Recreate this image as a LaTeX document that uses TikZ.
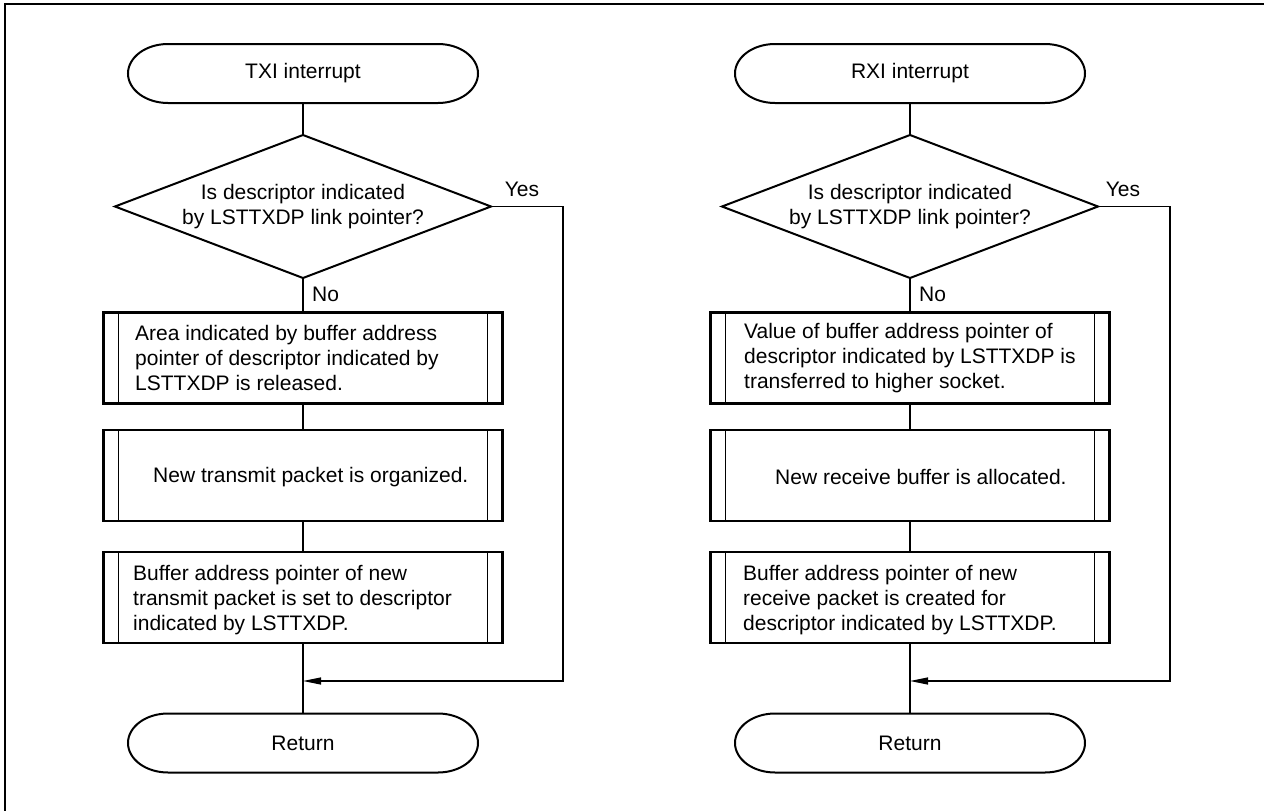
\documentclass[tikz,border=0pt]{standalone}
\usepackage{fontspec}
\setmainfont{Liberation Sans}
\usetikzlibrary{arrows.meta,shapes.geometric}
\newcommand\termshape[1]{%
  \draw[termline] ([xshift=40pt]#1.north west) -- ([xshift=-40pt]#1.north east)
    arc[start angle=90,end angle=-90,x radius=40pt,y radius=29.5pt]
    -- ([xshift=40pt]#1.south west)
    arc[start angle=270,end angle=90,x radius=40pt,y radius=29.5pt] -- cycle;}
\newcommand\procinner[1]{%
  \draw[innerline] ([xshift=15pt]#1.north west) -- ([xshift=15pt]#1.south west);
  \draw[innerline] ([xshift=-15pt]#1.north east) -- ([xshift=-15pt]#1.south east);}
\begin{document}
\begin{tikzpicture}[x=1pt,y=-1pt,
  txt/.style={font=\fontsize{21}{25}\selectfont, inner sep=0pt, text=black},
  termtext/.style={txt, minimum width=350pt, minimum height=59pt, outer sep=0pt},
  termline/.style={line width=2pt},
  dec/.style={txt, draw, line width=2pt, diamond, aspect=2.63, minimum width=376pt, minimum height=143pt, align=center, outer sep=0pt},
  procbox/.style={draw, line width=2.5pt, minimum width=399pt, minimum height=91pt, inner sep=0pt, outer sep=0pt},
  innerline/.style={line width=1pt},
  conn/.style={line width=1.2pt},
  arr/.style={conn, -{Triangle[length=18pt,width=7pt]}},
  boxtext/.style={txt, anchor=west, align=left},
  lbl/.style={txt},
]
\useasboundingbox (0,0) rectangle (1264,811);
\draw[line width=2pt] (5,811) -- (5,4) -- (1264,4);

% ---------- left column ----------
\node[termtext] (ls) at (303,73.5) {TXI interrupt};
\termshape{ls}
\node[dec] (ld) at (303,206.5) {Is descriptor indicated\\by LSTTXDP link pointer?};
\node[procbox] (lb1) at (303,358) {};
\procinner{lb1}
\node[boxtext] (lt1) at (135,358) {Area indicated by buffer address\\pointer of descriptor indicated by\\LSTTXDP is released.};
\node[procbox] (lb2) at (303,475.5) {};
\procinner{lb2}
\node[boxtext] (lt2) at (153,477) {New transmit packet is organized.};
\node[procbox] (lb3) at (303,597.5) {};
\procinner{lb3}
\node[boxtext] (lt3) at (133,600) {Buffer address pointer of new\\transmit packet is set to descriptor\\indicated by LSTTXDP.};
\node[termtext] (lr) at (303,743) {Return};
\termshape{lr}
\node[lbl] (lyes) at (522,189) {Yes};
\node[lbl, anchor=west] (lno) at (312,294) {No};
\coordinate (lc) at (563,681);

\draw[conn] (ls.south) -- (ld.north);
\draw[conn] (ld.south) -- (lb1.north);
\draw[conn] (lb1.south) -- (lb2.north);
\draw[conn] (lb2.south) -- (lb3.north);
\draw[conn] (lb3.south) -- (lr.north);
\draw[arr] (ld.east) -| (lc) -- (lc -| lb3.south);

% ---------- right column ----------
\node[termtext] (rs) at (910,73.5) {RXI interrupt};
\termshape{rs}
\node[dec] (rd) at (910,206.5) {Is descriptor indicated\\by LSTTXDP link pointer?};
\node[procbox] (rb1) at (910,358) {};
\procinner{rb1}
\node[boxtext] (rt1) at (744,358) {Value of buffer address pointer of\\descriptor indicated by LSTTXDP is\\transferred to higher socket.};
\node[procbox] (rb2) at (910,475.5) {};
\procinner{rb2}
\node[boxtext] (rt2) at (775,477) {New receive buffer is allocated.};
\node[procbox] (rb3) at (910,597.5) {};
\procinner{rb3}
\node[boxtext] (rt3) at (743,600) {Buffer address pointer of new\\receive packet is created for\\descriptor indicated by LSTTXDP.};
\node[termtext] (rr) at (910,743) {Return};
\termshape{rr}
\node[lbl] (ryes) at (1123,189) {Yes};
\node[lbl, anchor=west] (rno) at (919,294) {No};
\coordinate (rc) at (1170,681);

\draw[conn] (rs.south) -- (rd.north);
\draw[conn] (rd.south) -- (rb1.north);
\draw[conn] (rb1.south) -- (rb2.north);
\draw[conn] (rb2.south) -- (rb3.north);
\draw[conn] (rb3.south) -- (rr.north);
\draw[arr] (rd.east) -| (rc) -- (rc -| rb3.south);
\end{tikzpicture}
\end{document}
